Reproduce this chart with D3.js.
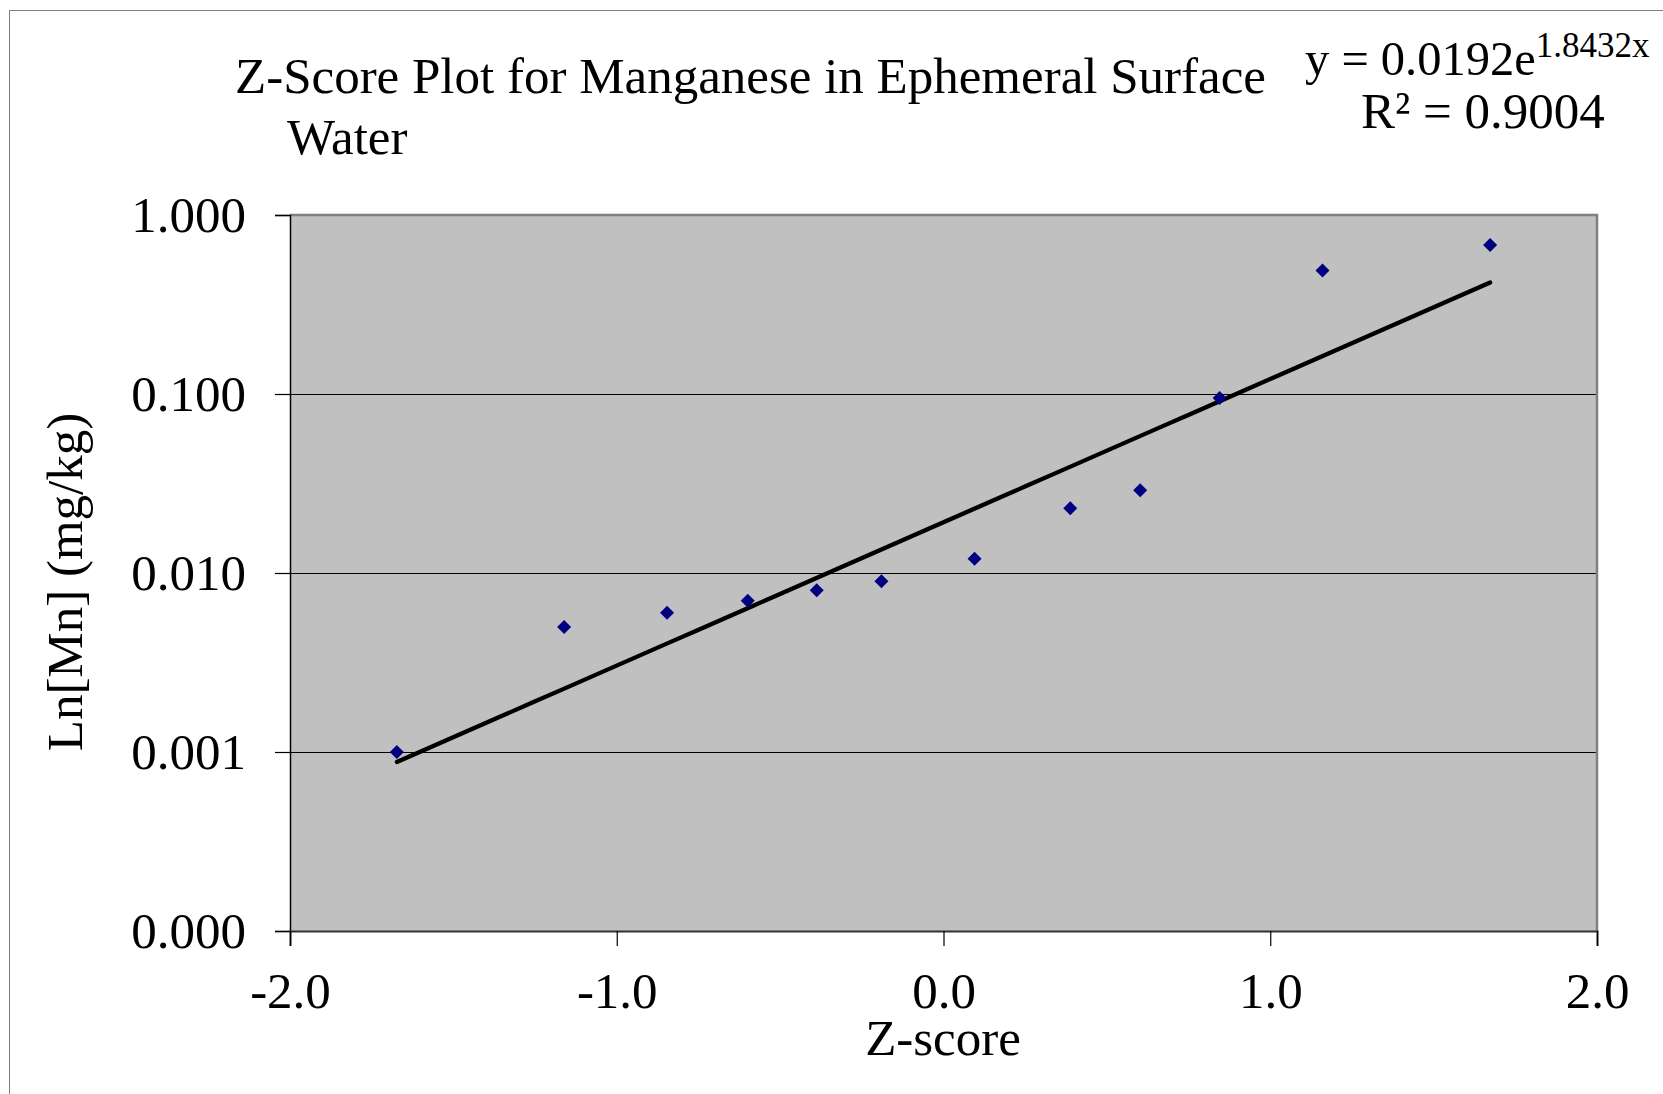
<!DOCTYPE html>
<html>
<head>
<meta charset="utf-8">
<script src="https://cdn.jsdelivr.net/npm/d3@7"></script>
<style>
  html, body { margin: 0; padding: 0; background: #fff; }
  svg { display: block; }
  text { font-family: "Liberation Serif", "Times New Roman", serif; fill: #000; }
</style>
</head>
<body>
<svg id="chart" width="1663" height="1094"></svg>
<script>
// ---- data ----
const zScores = [-1.673, -1.161, -0.846, -0.599, -0.388, -0.190, 0.095, 0.388, 0.602, 0.845, 1.160, 1.673];
const mnValues = [0.001, 0.005, 0.006, 0.007, 0.008, 0.009, 0.012, 0.023, 0.029, 0.095, 0.49, 0.68];
const yTickValues = [0.0001, 0.001, 0.01, 0.1, 1];
const yTickLabels = ["0.000", "0.001", "0.010", "0.100", "1.000"];
const xTickValues = [-2, -1, 0, 1, 2];
const xTickLabels = ["-2.0", "-1.0", "0.0", "1.0", "2.0"];
const trendCoef = [0.0192, 1.8432];   // y = a * e^(b x)
const trendR2 = "0.9004";
const titleLines = ["Z-Score Plot for Manganese in Ephemeral Surface", "Water"];

// ---- layout ----
const svg = d3.select("#chart");
const L = 290, R = 1597, T = 215, B = 931;
const FS = 51;

const x = d3.scaleLinear().domain([-2, 2]).range([L, R]);
const y = d3.scaleLog().domain([0.0001, 1]).range([B, T]);

// outer chart border
svg.append("rect").attr("x", 9.5).attr("y", 10.5).attr("width", 1700).attr("height", 1200)
  .attr("fill", "none").attr("stroke", "#808080").attr("stroke-width", 1);

// plot area
svg.append("rect").attr("x", L).attr("y", T).attr("width", R - L).attr("height", B - T)
  .attr("fill", "#c0c0c0");

// gridlines
svg.append("g").selectAll("line").data(yTickValues.slice(1, -1)).join("line")
  .attr("x1", L).attr("x2", R).attr("y1", d => Math.round(y(d)) + 0.5).attr("y2", d => Math.round(y(d)) + 0.5)
  .attr("stroke", "#000").attr("stroke-width", 1);

// plot border top/right gray
svg.append("path").attr("d", `M${L},${T} H${R} V${B}`)
  .attr("fill", "none").attr("stroke", "#808080").attr("stroke-width", 2.5);

// axes
const yAxis = d3.axisLeft(y).tickValues(yTickValues).tickFormat((d, i) => yTickLabels[i]).tickSize(15).tickPadding(29);
const gy = svg.append("g").attr("transform", `translate(${L},0)`).call(yAxis);
gy.select(".domain").attr("stroke", "#000").attr("stroke-width", 1.5);
gy.selectAll(".tick line").attr("stroke", "#000").attr("stroke-width", 1.2);
gy.selectAll(".tick text").attr("font-size", FS).attr("font-family", "Liberation Serif").attr("dy", "0.33em");

const xAxis = d3.axisBottom(x).tickValues(xTickValues).tickFormat((d, i) => xTickLabels[i]).tickSize(15).tickPadding(0);
const gx = svg.append("g").attr("transform", `translate(0,${B})`).call(xAxis);
gx.select(".domain").attr("stroke", "#333").attr("stroke-width", 2);
gx.selectAll(".tick line").attr("stroke", "#000").attr("stroke-width", 1.2);
gx.selectAll(".tick text").attr("font-size", FS).attr("font-family", "Liberation Serif")
  .attr("dy", null).attr("y", 77);

// trendline
const xr = d3.extent(zScores);
const trendPts = d3.range(0, 41).map(i => {
  const xv = xr[0] + (xr[1] - xr[0]) * i / 40;
  return [xv, trendCoef[0] * Math.exp(trendCoef[1] * xv)];
});
svg.append("path").datum(trendPts)
  .attr("d", d3.line().x(d => x(d[0])).y(d => y(d[1])))
  .attr("fill", "none").attr("stroke", "#000").attr("stroke-width", 4.3).attr("stroke-linecap", "round");

// markers
const pts = zScores.map((z, i) => [z, mnValues[i]]);
svg.append("g").selectAll("path").data(pts).join("path")
  .attr("transform", d => `translate(${x(d[0])},${y(d[1])})`)
  .attr("d", "M0,-7 L7,0 L0,7 L-7,0 Z")
  .attr("fill", "#000080");

// title
svg.append("text").attr("x", 235).attr("y", 93).attr("font-size", FS).text(titleLines[0]);
svg.append("text").attr("x", 287).attr("y", 154).attr("font-size", FS).text(titleLines[1]);

// equation
const eq = svg.append("text").attr("x", 1305).attr("y", 75).attr("font-size", 48.5);
eq.append("tspan").text(`y = ${trendCoef[0]}e`);
eq.append("tspan").attr("font-size", 35).attr("dy", -18).text(`${trendCoef[1]}x`);
svg.append("text").attr("x", 1361).attr("y", 128).attr("font-size", FS).text(`R² = ${trendR2}`);

// axis titles
svg.append("text").attr("x", 943).attr("y", 1055).attr("text-anchor", "middle").attr("font-size", FS).text("Z-score");
svg.append("text").attr("transform", "translate(82,582) rotate(-90)").attr("text-anchor", "middle")
  .attr("font-size", FS).text("Ln[Mn] (mg/kg)");
</script>
</body>
</html>
